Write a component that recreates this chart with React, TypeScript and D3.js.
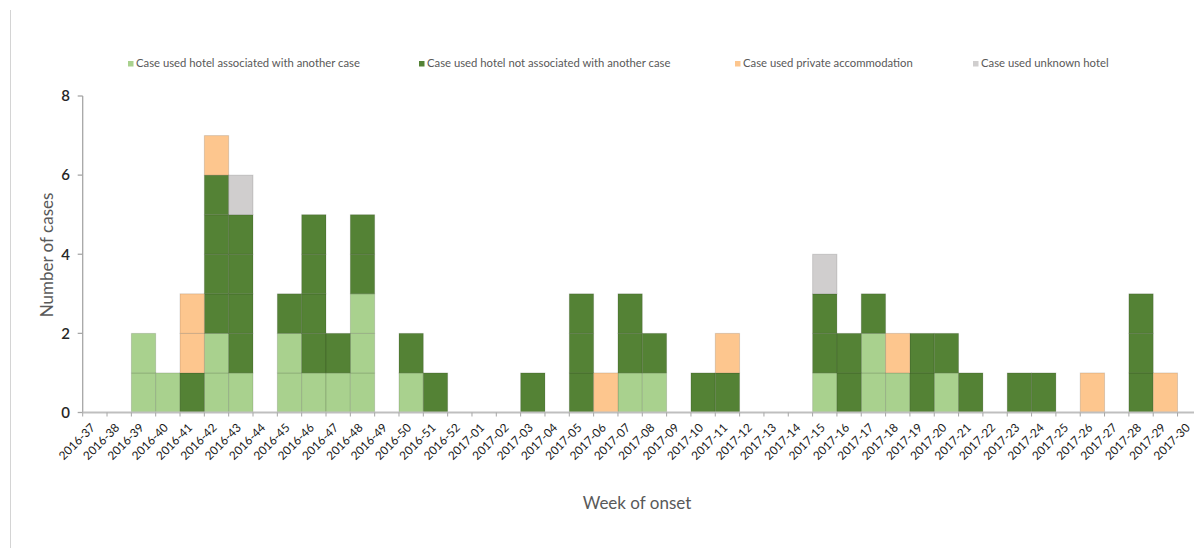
import React, { useRef, useEffect } from 'react';
import * as d3 from 'd3';

// week of onset, 2016-37 .. 2017-30
const weeks = [
  '2016-37', '2016-38', '2016-39', '2016-40', '2016-41', '2016-42', '2016-43', '2016-44',
  '2016-45', '2016-46', '2016-47', '2016-48', '2016-49', '2016-50', '2016-51', '2016-52',
  '2017-01', '2017-02', '2017-03', '2017-04', '2017-05', '2017-06', '2017-07', '2017-08',
  '2017-09', '2017-10', '2017-11', '2017-12', '2017-13', '2017-14', '2017-15', '2017-16',
  '2017-17', '2017-18', '2017-19', '2017-20', '2017-21', '2017-22', '2017-23', '2017-24',
  '2017-25', '2017-26', '2017-27', '2017-28', '2017-29', '2017-30',
];

const hotelAssoc = [
  0, 0, 2, 1, 0, 2, 1, 0, 2, 1, 1, 3, 0, 1, 0, 0,
  0, 0, 0, 0, 0, 0, 1, 1, 0, 0, 0, 0, 0, 0, 1, 0,
  2, 1, 0, 1, 0, 0, 0, 0, 0, 0, 0, 0, 0, 0,
];
const hotelNotAssoc = [
  0, 0, 0, 0, 1, 4, 4, 0, 1, 4, 1, 2, 0, 1, 1, 0,
  0, 0, 1, 0, 3, 0, 2, 1, 0, 1, 1, 0, 0, 0, 2, 2,
  1, 0, 2, 1, 1, 0, 1, 1, 0, 0, 0, 3, 0, 0,
];
const privateAcc = [
  0, 0, 0, 0, 2, 1, 0, 0, 0, 0, 0, 0, 0, 0, 0, 0,
  0, 0, 0, 0, 0, 1, 0, 0, 0, 0, 1, 0, 0, 0, 0, 0,
  0, 1, 0, 0, 0, 0, 0, 0, 0, 1, 0, 0, 1, 0,
];
const unknownHotel = [
  0, 0, 0, 0, 0, 0, 1, 0, 0, 0, 0, 0, 0, 0, 0, 0,
  0, 0, 0, 0, 0, 0, 0, 0, 0, 0, 0, 0, 0, 0, 1, 0,
  0, 0, 0, 0, 0, 0, 0, 0, 0, 0, 0, 0, 0, 0,
];

const seriesNames = [
  'Case used hotel associated with another case',
  'Case used hotel not associated with another case',
  'Case used private accommodation',
  'Case used unknown hotel',
];
const seriesColors = ['#a9d18e', '#548235', '#fdc68e', '#d0cece'];
const yTicks = [0, 2, 4, 6, 8];

function App() {
  const canvas = useRef(null);

  const width = 1194;
  const height = 548;
  const left = 82.7;
  const band = 24.33;
  const font = 'Lato, "Open Sans", sans-serif';

  useEffect(() => {
    d3.select(canvas.current).selectAll('*').remove();
    const svg = d3.select(canvas.current)
      .append('svg')
      .attr('width', width)
      .attr('height', height)
      .style('position', 'absolute')
      .style('left', 0)
      .style('top', 0)
      .style('font-family', font);

    const xScale = d3.scaleBand()
      .domain(weeks)
      .range([left, left + weeks.length * band])
      .padding(0);
    const yScale = d3.scaleLinear()
      .domain([0, 8])
      .range([412.5, 96]);

    // frame line on the left of the picture
    svg.append('line')
      .attr('x1', 10.5).attr('x2', 10.5)
      .attr('y1', 10).attr('y2', height)
      .attr('stroke', '#d4d4d4').attr('stroke-width', 1);

    const table = weeks.map((w, i) => ({
      week: w,
      a: hotelAssoc[i],
      b: hotelNotAssoc[i],
      c: privateAcc[i],
      d: unknownHotel[i],
    }));
    const keys = ['a', 'b', 'c', 'd'];
    const stacked = d3.stack().keys(keys)(table);

    // one block per case
    stacked.forEach((layer, si) => {
      const cells = [];
      layer.forEach(seg => {
        for (let k = seg[0]; k < seg[1]; k++) {
          cells.push({ week: seg.data.week, lo: k, hi: k + 1 });
        }
      });
      svg.append('g')
        .selectAll('rect')
        .data(cells)
        .enter()
        .append('rect')
        .attr('x', d => xScale(d.week))
        .attr('y', d => yScale(d.hi))
        .attr('width', xScale.bandwidth())
        .attr('height', d => yScale(d.lo) - yScale(d.hi))
        .attr('fill', seriesColors[si])
        .attr('stroke', 'rgba(0,0,0,0.13)')
        .attr('stroke-width', 1);
    });

    // y axis
    const yAxis = svg.append('g');
    yAxis.append('line')
      .attr('x1', left).attr('x2', left)
      .attr('y1', yScale(8)).attr('y2', yScale(0))
      .attr('stroke', '#a6a6a6').attr('stroke-width', 1.3);
    yTicks.forEach(t => {
      yAxis.append('line')
        .attr('x1', left - 5).attr('x2', left)
        .attr('y1', yScale(t)).attr('y2', yScale(t))
        .attr('stroke', '#a6a6a6').attr('stroke-width', 1.3);
      yAxis.append('text')
        .attr('x', 70)
        .attr('y', yScale(t))
        .attr('dy', '0.35em')
        .attr('text-anchor', 'end')
        .attr('font-size', 15)
        .attr('font-weight', 600)
        .attr('fill', '#262626')
        .text(t);
    });

    // x axis
    const xAxis = svg.append('g');
    const axisY = yScale(0);
    xAxis.append('line')
      .attr('x1', left).attr('x2', left + weeks.length * band)
      .attr('y1', axisY).attr('y2', axisY)
      .attr('stroke', '#bfbfbf').attr('stroke-width', 2);
    weeks.concat(['end']).forEach((w, i) => {
      const tx = i < weeks.length ? xScale(w) : xScale(weeks[weeks.length - 1]) + band;
      xAxis.append('line')
        .attr('x1', tx).attr('x2', tx)
        .attr('y1', axisY).attr('y2', axisY + 4)
        .attr('stroke', '#a6a6a6').attr('stroke-width', 1);
    });
    xAxis.selectAll('text.tick')
      .data(weeks)
      .enter()
      .append('text')
      .attr('class', 'tick')
      .attr('transform', d => `translate(${xScale(d) + band / 2 + 1}, ${axisY + 16}) rotate(-45)`)
      .attr('text-anchor', 'end')
      .attr('font-size', 11.8)
      .attr('fill', '#1a1a1a')
      .text(d => d);

    // axis titles
    svg.append('text')
      .attr('transform', 'translate(53, 255) rotate(-90)')
      .attr('text-anchor', 'middle')
      .attr('font-size', 17)
      .attr('fill', '#595959')
      .text('Number of cases');
    svg.append('text')
      .attr('x', 637)
      .attr('y', 509)
      .attr('text-anchor', 'middle')
      .attr('font-size', 17)
      .attr('fill', '#595959')
      .text('Week of onset');

    // legend
    const legendX = [128, 419, 735, 973];
    const legend = svg.append('g');
    seriesNames.forEach((name, i) => {
      legend.append('rect')
        .attr('x', legendX[i]).attr('y', 61)
        .attr('width', 5.5).attr('height', 5.5)
        .attr('fill', seriesColors[i]);
      legend.append('text')
        .attr('x', legendX[i] + 8)
        .attr('y', 63.5)
        .attr('dy', '0.35em')
        .attr('font-size', 11.3)
        .attr('fill', '#595959')
        .text(name);
    });
  });

  return <div className="d3-canvas" ref={canvas}></div>;
}

export default App;
